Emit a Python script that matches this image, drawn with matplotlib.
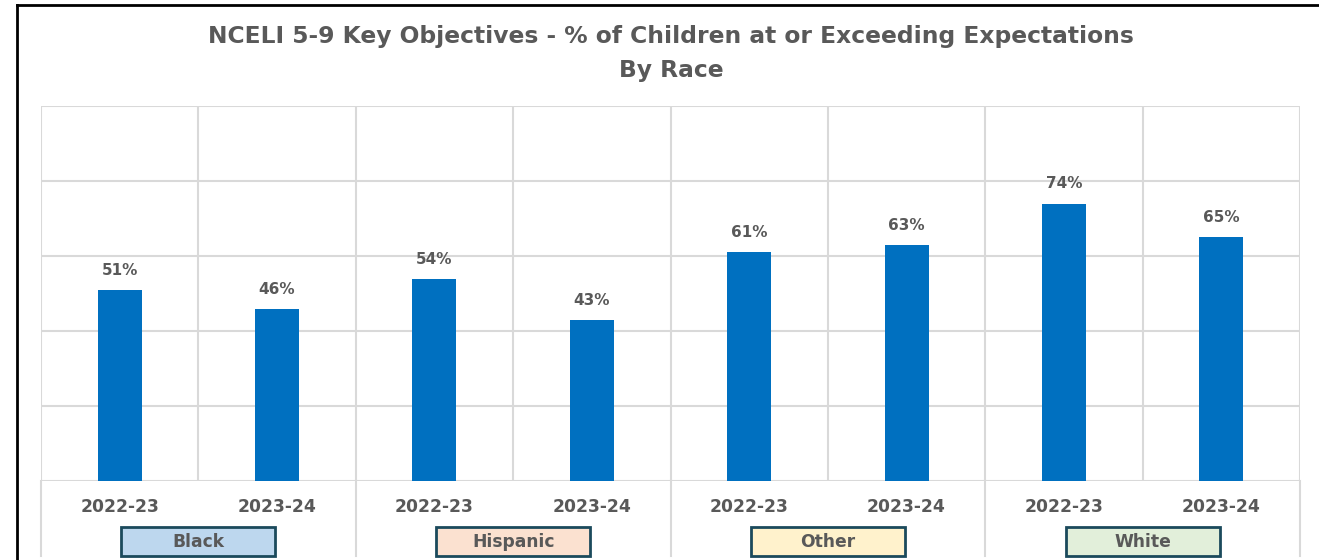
import matplotlib; matplotlib.use("Agg")
import matplotlib.pyplot as plt
import matplotlib.transforms as mtransforms
from matplotlib.patches import Rectangle
from matplotlib.lines import Line2D

plt.rcParams.update({"font.family": ["DejaVu Sans"], "figure.facecolor": "white"})
BLUE = "#0070C0"; TXT = "#595959"; GRID = "#D9D9D9"; EDGE = "#1B4A5C"

races = ["Black", "Hispanic", "Other", "White"]
years = ["2022-23", "2023-24"]
race_colors = ["#BDD7EE", "#FBE1D0", "#FFF2CC", "#E2EFDA"]
values = [51, 46, 54, 43, 61, 63, 74, 65]

fig = plt.figure(figsize=(13.19, 5.6), dpi=100)
ax = fig.add_axes([41/1319, 79/560, 1259/1319, 375/560])

x = list(range(len(values)))
ax.bar(x, values, width=0.28, color=BLUE, zorder=3)
for xi, v in zip(x, values):
    ax.text(xi, v + 3.2, f"{v}%", ha="center", va="bottom", fontsize=11, fontweight="bold", color=TXT)

ax.set_xlim(-0.5, len(values) - 0.5)
ax.set_ylim(0, 100)
for y in range(0, 101, 20):
    ax.axhline(y, color=GRID, lw=1.5, zorder=1)
for xv in [i - 0.5 for i in range(len(values) + 1)]:
    ax.axvline(xv, color=GRID, lw=1.5, zorder=1)
for s in ax.spines.values():
    s.set_visible(False)
ax.set_yticks([])
ax.set_xticks(x)
ax.set_xticklabels(years * len(races), fontsize=12.3, fontweight="bold", color=TXT)
ax.tick_params(axis="x", length=0, pad=12)

tr = mtransforms.blended_transform_factory(ax.transData, ax.transAxes)
for i in range(len(races) + 1):
    ax.plot([2*i - 0.5, 2*i - 0.5], [0, -0.2], color=GRID, lw=1.5, transform=tr, clip_on=False)
for i, (r, c) in enumerate(zip(races, race_colors)):
    cx = 2*i + 0.5
    ax.add_patch(Rectangle((cx - 0.49, -0.2), 0.98, 0.077, facecolor=c, edgecolor=EDGE, lw=2,
                           transform=tr, clip_on=False, zorder=4))
    ax.text(cx, -0.163, r, ha="center", va="center", fontsize=12.3, fontweight="bold", color=TXT,
            transform=tr, zorder=5)

fig.text(671/1319, 1 - 37/560, "NCELI 5-9 Key Objectives - % of Children at or Exceeding Expectations",
         ha="center", va="center", fontsize=16.8, fontweight="bold", color=TXT)
fig.text(671/1319, 1 - 70/560, "By Race", ha="center", va="center", fontsize=16.8, fontweight="bold", color=TXT)

fig.add_artist(Line2D([17/1319, 17/1319], [0, 1 - 5/560], color="black", lw=2))
fig.add_artist(Line2D([17/1319, 1], [1 - 5/560, 1 - 5/560], color="black", lw=2))

fig.savefig("out.png", dpi=100)
